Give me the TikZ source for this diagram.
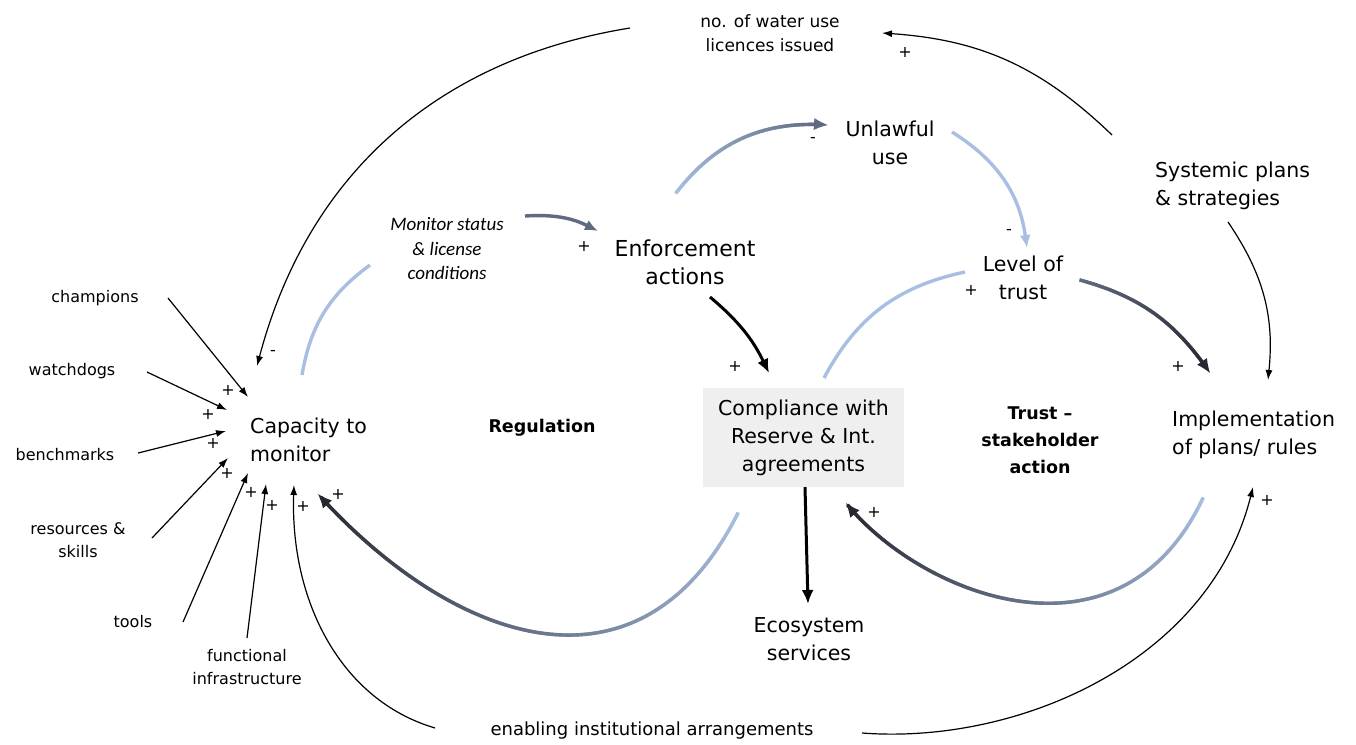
\documentclass[tikz,border=0pt]{standalone}
\usepackage{fontspec}
\setmainfont{DejaVu Sans}
\newfontfamily\notefont{Carlito}
\usetikzlibrary{arrows.meta,decorations.markings}

\definecolor{loopblue}{RGB}{168,191,225}
\definecolor{loopdark}{RGB}{38,40,48}
\definecolor{slate}{RGB}{96,106,128}
\definecolor{boxgray}{RGB}{239,239,239}

\tikzset{
  big/.style={font=\fontsize{20.5}{28}\selectfont, align=center, inner sep=0pt},
  small/.style={font=\fontsize{16}{23.5}\selectfont, align=center, inner sep=0pt},
  note/.style={font=\notefont\itshape\fontsize{19}{24.5}\selectfont, align=center, inner sep=0pt},
  loopname/.style={font=\bfseries\fontsize{17.5}{27}\selectfont, align=center, inner sep=0pt},
  sign/.style={font=\fontsize{16}{16}\selectfont, inner sep=0pt},
  compbox/.style={big, fill=boxgray, minimum width=201pt, minimum height=99pt},
  inarrow/.style={draw=black, line width=1.2pt, -{Latex[length=10pt,width=7pt]}},
  boldarrow/.style={draw=black, line width=3pt, -{Latex[length=14pt,width=12pt]}},
  loopline/.style={draw=loopblue, line width=3.4pt},
  % a line that fades from colour #1 to colour #2, width #3
  fade line/.style n args={3}{
    decorate,
    decoration={markings,
      mark=between positions 0 and -9pt step 0.7pt with {
        \pgfmathsetmacro\gfrac{\pgfkeysvalueof{/pgf/decoration/mark info/distance from start}/(\pgfdecoratedpathlength-9)}
        \pgfmathsetmacro\gmix{max(0,min(100,100-100*\gfrac))}
        \draw[line width=#3, draw={#1!\gmix!#2}] (-0.6pt,0pt) -- (0.6pt,0pt);
      }
    }
  },
  % only the arrow tip of a faded line (the line itself is left invisible)
  fade tip/.style={draw=#1, line width=1pt, dash pattern=on 0pt off 4000pt,
    -{Latex[length=14pt,width=12pt]}}
}

\begin{document}
\begin{tikzpicture}[x=1pt,y=-1pt]
\path[use as bounding box] (0,0) rectangle (1356,744);

% ---------- variables ----------
\node[small, font=\fontsize{17}{24}\selectfont] (water) at (770,33) {no. of water use\\licences issued};
\node[big] (unlawful) at (890,143) {Unlawful\\use};
\node[big, align=left, anchor=west] (systemic) at (1155,186) {Systemic plans\\\& strategies};
\node[note] (monitor) at (447,249) {Monitor status\\\& license\\conditions};
\node[big, font=\fontsize{22}{28}\selectfont] (enforce) at (685,262) {Enforcement\\actions};
\node[big] (trust) at (1023,278) {Level of\\trust};
\node[small] (champ) at (95,298) {champions};
\node[small] (watch) at (72,371) {watchdogs};
\node[small] (bench) at (65,455) {benchmarks};
\node[small] (resource) at (78,540) {resources \&\\skills};
\node[small] (tools) at (133,622) {tools};
\node[small] (infra) at (247,667) {functional\\infrastructure};
\node[big, align=left, anchor=west] (capacity) at (250,440) {Capacity to\\monitor};
\node[loopname] (regulation) at (542,428) {Regulation};
\node[compbox] (comp) at (803.5,437.5) {Compliance with\\Reserve \& Int.\\agreements};
\node[loopname] (trustloop) at (1040,440) {Trust –\\stakeholder\\action};
\node[big, align=left, anchor=west] (impl) at (1172,435) {Implementation\\of plans/ rules};
\node[big] (eco) at (809,639) {Ecosystem\\services};
\node[small, font=\fontsize{18}{24}\selectfont] (enabling) at (652,731) {enabling institutional arrangements};

% ---------- connector end points ----------
\coordinate (waterOut) at (630,28);
\coordinate (capTop) at (257,366);
\coordinate (sysOut) at (1112,135);
\coordinate (waterIn) at (882,33);
\coordinate (sysDown) at (1228,222);
\coordinate (implTop) at (1268,380);
\coordinate (trustOut) at (1080,280);
\coordinate (implIn) at (1210,373);
\coordinate (unlOut) at (952,132);
\coordinate (trustIn) at (1027,248);
\coordinate (enfUp) at (676,193);
\coordinate (unlIn) at (828,125);
\coordinate (monOut) at (525,216);
\coordinate (enfIn) at (598,231);
\coordinate (capUp) at (302,375);
\coordinate (monIn) at (370,265);
\coordinate (enfDown) at (710,297);
\coordinate (compTop) at (769,373);
\coordinate (compUp) at (824,378);
\coordinate (trustLeft) at (965,272);
\coordinate (compLow) at (738,513);
\coordinate (capRight) at (318,494);
\coordinate (implLow) at (1203,498);
\coordinate (compRight) at (846,503);
\coordinate (ecoIn) at (808,604);
\coordinate (enabL) at (435,728);
\coordinate (capEnab) at (294,485);
\coordinate (enabR) at (862,733);
\coordinate (implEnab) at (1253,487);
\coordinate (champOut) at (168,298);   \coordinate (champIn) at (248,397);
\coordinate (watchOut) at (147,372);   \coordinate (watchIn) at (227,410);
\coordinate (benchOut) at (138,453);   \coordinate (benchIn) at (226,431);
\coordinate (resOut) at (152,538);     \coordinate (resIn) at (228,458);
\coordinate (toolsOut) at (183,622);   \coordinate (toolsIn) at (248,473);
\coordinate (infraOut) at (247,638);   \coordinate (infraIn) at (266,484);

% ---------- thin causal links ----------
\draw[inarrow] (waterOut) to[bend right=33] (capTop);
\draw[inarrow] (sysOut) to[bend right=20] (waterIn);
\draw[inarrow] (sysDown) to[bend left=20] (implTop);
\draw[inarrow] (enabL) .. controls (340,700) and (290,600) .. (capEnab);
\draw[inarrow] (enabR) .. controls (1020,745) and (1210,660) .. (implEnab);
\draw[inarrow] (champOut) -- (champIn);
\draw[inarrow] (watchOut) -- (watchIn);
\draw[inarrow] (benchOut) -- (benchIn);
\draw[inarrow] (resOut) -- (resIn);
\draw[inarrow] (toolsOut) -- (toolsIn);
\draw[inarrow] (infraOut) -- (infraIn);

% ---------- loop links ----------
\draw[loopline] (capUp) to[bend left=22] (monIn);
\draw[line width=3.4pt, draw=slate, -{Latex[length=13pt,width=11pt]}] (monOut) to[bend left=15] (enfIn);
\path[fade line={loopblue}{slate}{3.4pt}] (enfUp) to[bend left=28] (unlIn);
\draw[fade tip=slate] (enfUp) to[bend left=28] (unlIn);
\draw[loopline, -{Latex[length=13pt,width=11pt]}] (unlOut) to[bend left=25] (trustIn);
\draw[loopline] (compUp) to[bend left=25] (trustLeft);
\path[fade line={slate}{loopdark}{3.4pt}] (trustOut) to[bend left=20] (implIn);
\draw[fade tip=loopdark] (trustOut) to[bend left=20] (implIn);
\draw[boldarrow] (enfDown) to[bend left=12] (compTop);
\draw[boldarrow] ([xshift=1.5pt]comp.south) -- (ecoIn);
\path[fade line={loopblue}{loopdark}{3.4pt}] (compLow) .. controls (638,712) and (450,640) .. (capRight);
\draw[fade tip=loopdark] (compLow) .. controls (638,712) and (450,640) .. (capRight);
\path[fade line={loopblue}{loopdark}{3.4pt}] (implLow) .. controls (1120,675) and (920,595) .. (compRight);
\draw[fade tip=loopdark] (implLow) .. controls (1120,675) and (920,595) .. (compRight);

% ---------- polarity signs ----------
\node[sign] (sgA) at (273,353) {-};
\node[sign] (sgB) at (905,52) {+};
\node[sign] (sgC) at (813,140) {-};
\node[sign] (sgD) at (1009,232) {-};
\node[sign] (sgE) at (584,246) {+};
\node[sign] (sgF) at (735,366) {+};
\node[sign] (sgG) at (971,290) {+};
\node[sign] (sgH) at (1178,366) {+};
\node[sign] (sgI) at (874,512) {+};
\node[sign] (sgJ) at (1267,500) {+};
\node[sign] (sgK) at (338,494) {+};
\node[sign] (sgL) at (228,390) {+};
\node[sign] (sgM) at (208,414) {+};
\node[sign] (sgN) at (213,443) {+};
\node[sign] (sgO) at (227,473) {+};
\node[sign] (sgP) at (251,492) {+};
\node[sign] (sgQ) at (272,505) {+};
\node[sign] (sgR) at (303,506) {+};
\end{tikzpicture}
\end{document}
